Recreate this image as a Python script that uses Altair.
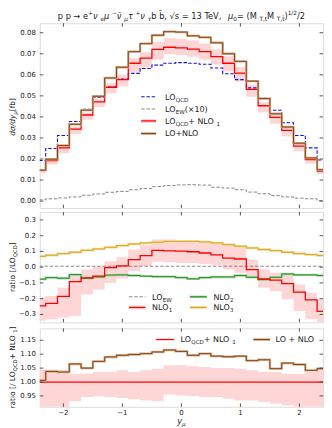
import unicodedata
import altair as alt
import pandas as pd

# ---------------- data ----------------
bin_centers = [-2.4, -2.2, -2.0, -1.8, -1.6, -1.4, -1.2, -1.0, -0.8, -0.6, -0.4, -0.2,
               0.0, 0.2, 0.4, 0.6, 0.8, 1.0, 1.2, 1.4, 1.6, 1.8, 2.0, 2.2, 2.4]
half_bin = 0.1

lo_qcd = [0.0193, 0.0250, 0.0312, 0.0378, 0.0436, 0.0492, 0.0542, 0.0580, 0.0607, 0.0630,
          0.0646, 0.0655, 0.0658, 0.0655, 0.0650, 0.0632, 0.0605, 0.0577, 0.0538, 0.0488,
          0.0432, 0.0372, 0.0312, 0.0253, 0.0195]
lo_ew_x10 = [0.0006, 0.0011, 0.0015, 0.0020, 0.0028, 0.0034, 0.0042, 0.0046, 0.0054, 0.0060,
             0.0069, 0.0074, 0.0077, 0.0078, 0.0076, 0.0066, 0.0062, 0.0054, 0.0043, 0.0035,
             0.0026, 0.0020, 0.0014, 0.0011, 0.0003]
lo_qcd_nlo1 = [0.0146, 0.0192, 0.0253, 0.0342, 0.0409, 0.0471, 0.0541, 0.0577, 0.0655, 0.0679,
               0.0721, 0.0731, 0.0728, 0.0722, 0.0710, 0.0686, 0.0655, 0.0608, 0.0531, 0.0453,
               0.0398, 0.0336, 0.0261, 0.0197, 0.0142]
lo_nlo = [0.0147, 0.0199, 0.0264, 0.0365, 0.0432, 0.0498, 0.0585, 0.0636, 0.0710, 0.0748,
          0.0788, 0.0805, 0.0803, 0.0785, 0.0778, 0.0752, 0.0700, 0.0664, 0.0570, 0.0487,
          0.0415, 0.0352, 0.0275, 0.0205, 0.0149]

# ratio / LO_QCD
r_lo_ew = [0.006, 0.006, 0.006, 0.006, 0.006, 0.006, 0.006, 0.006, 0.006, 0.006,
           0.006, 0.006, 0.006, 0.006, 0.006, 0.006, 0.006, 0.006, 0.006, 0.006,
           0.006, 0.006, 0.006, 0.006, 0.006]
r_nlo1 = [-0.245, -0.230, -0.185, -0.092, -0.068, -0.057, -0.003, 0.008, 0.048, 0.074,
          0.107, 0.104, 0.102, 0.098, 0.090, 0.078, 0.058, 0.052, -0.016, -0.075,
          -0.082, -0.104, -0.158, -0.208, -0.280]
r_nlo1_hi = [-0.190, -0.183, -0.130, -0.046, -0.015, 0.006, 0.038, 0.063, 0.112, 0.143,
             0.175, 0.175, 0.168, 0.168, 0.164, 0.158, 0.143, 0.126, 0.048, -0.015,
             -0.036, -0.046, -0.110, -0.162, -0.204]
r_nlo1_lo = [-0.340, -0.330, -0.320, -0.310, -0.173, -0.141, -0.099, -0.072, -0.025, 0.006,
             0.034, 0.032, 0.027, 0.027, 0.021, 0.013, -0.015, -0.036, -0.067, -0.130,
             -0.152, -0.204, -0.278, -0.330, -0.350]
r_nlo2 = [-0.076, -0.066, -0.070, -0.047, -0.070, -0.062, -0.050, -0.049, -0.053, -0.057,
          -0.060, -0.060, -0.066, -0.074, -0.066, -0.062, -0.062, -0.053, -0.064, -0.079,
          -0.064, -0.043, -0.049, -0.049, -0.053]
r_nlo3 = [0.069, 0.076, 0.086, 0.095, 0.107, 0.116, 0.126, 0.137, 0.147, 0.154,
          0.158, 0.164, 0.164, 0.164, 0.160, 0.154, 0.143, 0.133, 0.122, 0.112,
          0.105, 0.095, 0.086, 0.080, 0.074]

# ratio / (LO_QCD + NLO_1)
r_ref = [1.0] * 25
r_lonlo = [1.006, 1.038, 1.036, 1.065, 1.050, 1.074, 1.090, 1.096, 1.099, 1.102,
           1.108, 1.115, 1.110, 1.096, 1.102, 1.093, 1.091, 1.093, 1.077, 1.080,
           1.048, 1.068, 1.063, 1.042, 1.048]
band_hi = [1.045, 1.045, 1.042, 1.030, 1.030, 1.036, 1.036, 1.042, 1.036, 1.042,
           1.048, 1.060, 1.060, 1.057, 1.054, 1.050, 1.050, 1.048, 1.042, 1.036,
           1.036, 1.030, 1.030, 1.036, 1.054]
band_lo = [0.900, 0.900, 0.900, 0.931, 0.946, 0.949, 0.946, 0.943, 0.938, 0.934,
           0.931, 0.955, 0.952, 0.950, 0.946, 0.946, 0.940, 0.934, 0.934, 0.928,
           0.922, 0.916, 0.910, 0.908, 0.905]

x_ticks = [-2, -1, 0, 1, 2]
x_tick_labels = ["−2", "−1", "0", "1", "2"]
y_ticks_top = [0.00, 0.01, 0.02, 0.03, 0.04, 0.05, 0.06, 0.07, 0.08]
y_labels_top = ["0.00", "0.01", "0.02", "0.03", "0.04", "0.05", "0.06", "0.07", "0.08"]
y_ticks_mid = [-0.3, -0.2, -0.1, 0.0, 0.1, 0.2, 0.3]
y_labels_mid = ["−0.3", "−0.2", "−0.1", "0.0", "0.1", "0.2", "0.3"]
y_ticks_bot = [0.95, 1.00, 1.05, 1.10, 1.15]
y_labels_bot = ["0.95", "1.00", "1.05", "1.10", "1.15"]

# ---------------- layout / style ----------------
W = 285
H1, H2, H3 = 186, 111, 79
FONT = "DejaVu Sans"
FS_TICK = 7
FS_LEG = 8
FS_AX = 7.5
FS_TITLE = 8.3
FRAME = "#444444"
TXT = "#222222"
NBSP = "\u00a0"

RED = "#ff0000"
PINK = "#ffd6d6"
BLUE = "#1010ee"
GRAY = "#7a7a7a"
BROWN = "#8b4513"
BROWN_H = "#d2b090"
GREEN = "#228b22"
GREEN_H = "#a8d8a8"
GOLD = "#daa520"
GOLD_H = "#f2dc9a"

X_DOM = [-2.4, 2.4]
D_TOP = [-0.0033, 0.0845]
D_MID = [-0.35, 0.35]
D_BOT = [0.911, 1.193]
xscale = alt.Scale(domain=X_DOM, nice=False, zero=False)


def ysc(dom):
    return alt.Scale(domain=dom, nice=False, zero=False)


def to_data_x(px):
    return X_DOM[0] + px / W * (X_DOM[1] - X_DOM[0])


def to_data_y(py, H, dom):
    return dom[1] - py / H * (dom[1] - dom[0])


def step_df(vals, lo=None, hi=None):
    xs = [c - half_bin for c in bin_centers] + [bin_centers[-1] + half_bin]
    d = {"x": xs, "y": list(vals) + [vals[-1]]}
    if lo is not None:
        d["lo"] = list(lo) + [lo[-1]]
        d["hi"] = list(hi) + [hi[-1]]
    return pd.DataFrame(d)


def hist(vals, dom, color, width, dash=None):
    kw = dict(color=color, strokeWidth=width, interpolate="step-after", clip=True)
    if dash:
        kw["strokeDash"] = dash
    return alt.Chart(step_df(vals)).mark_line(**kw).encode(
        x=alt.X("x:Q", scale=xscale, axis=None),
        y=alt.Y("y:Q", scale=ysc(dom), axis=None),
    )


def band(lo, hi, dom, color):
    return alt.Chart(step_df(lo, lo, hi)).mark_area(
        color=color, interpolate="step-after", clip=True, opacity=1
    ).encode(
        x=alt.X("x:Q", scale=xscale, axis=None),
        y=alt.Y("lo:Q", scale=ysc(dom), axis=None),
        y2="hi:Q",
    )


def frame_ticks(H, dom, yvals, ylabs, show_x):
    tl = 3.5
    out = []
    rule = dict(color=FRAME, strokeWidth=0.9)
    xdf = pd.DataFrame({
        "t": x_ticks * 2,
        "y1": [to_data_y(H, H, dom)] * len(x_ticks) + [to_data_y(0, H, dom)] * len(x_ticks),
        "y2": [to_data_y(H - tl, H, dom)] * len(x_ticks) + [to_data_y(tl, H, dom)] * len(x_ticks),
    })
    out.append(alt.Chart(xdf).mark_rule(**rule).encode(
        x=alt.X("t:Q", scale=xscale, axis=None),
        y=alt.Y("y1:Q", scale=ysc(dom), axis=None), y2="y2:Q"))
    n = len(yvals)
    ydf = pd.DataFrame({
        "v": list(yvals) * 2,
        "x1": [to_data_x(0)] * n + [to_data_x(W - tl)] * n,
        "x2": [to_data_x(tl)] * n + [to_data_x(W)] * n,
    })
    out.append(alt.Chart(ydf).mark_rule(**rule).encode(
        y=alt.Y("v:Q", scale=ysc(dom), axis=None),
        x=alt.X("x1:Q", scale=xscale, axis=None), x2="x2:Q"))
    # tick labels
    ldf = pd.DataFrame({"v": yvals, "lab": ylabs, "xl": [to_data_x(-4)] * n})
    out.append(alt.Chart(ldf).mark_text(
        font=FONT, fontSize=FS_TICK, align="right", baseline="middle", color=TXT
    ).encode(
        y=alt.Y("v:Q", scale=ysc(dom), axis=None),
        x=alt.X("xl:Q", scale=xscale, axis=None), text="lab:N"))
    if show_x:
        xl = pd.DataFrame({"t": x_ticks, "lab": x_tick_labels,
                           "yl": [to_data_y(H + 2, H, dom)] * len(x_ticks)})
        out.append(alt.Chart(xl).mark_text(
            font=FONT, fontSize=FS_TICK, align="center", baseline="top", color=TXT
        ).encode(
            x=alt.X("t:Q", scale=xscale, axis=None),
            y=alt.Y("yl:Q", scale=ysc(dom), axis=None), text="lab:N"))
    return out


# ---------------- rich text (sub/superscripts) ----------------
EM = {" ": 0.318, NBSP: 0.318, "(": 0.390, ")": 0.390, "+": 0.838, "/": 0.337, "[": 0.390,
      "]": 0.390, "×": 0.838, ".": 0.318, ",": 0.318, "=": 0.838, "→": 0.838, "−": 0.838,
      "√": 0.636,
      "L": 0.557, "O": 0.787, "Q": 0.787, "C": 0.698, "D": 0.770, "E": 0.632, "W": 0.989,
      "N": 0.748, "M": 0.863, "T": 0.611, "V": 0.684,
      "a": 0.613, "t": 0.392, "i": 0.278, "o": 0.612, "r": 0.411, "d": 0.635, "f": 0.352,
      "b": 0.635, "y": 0.592, "s": 0.521, "e": 0.615, "p": 0.635,
      "σ": 0.634, "μ": 0.636, "ν": 0.592, "τ": 0.602}


def tw(s, fs):
    w = 0.0
    for ch in s:
        if unicodedata.combining(ch):
            continue
        w += EM.get(ch, 0.636)
    return w * fs


def rich(segs, x0, y0, fs, ang=0, anchor="left", color=TXT):
    """segs: list of (text, kind, italic) with kind in n/sub/sup; x0/y0 in pixels"""
    sizes = {"n": fs, "sub": 0.7 * fs, "sup": 0.7 * fs}
    shifts = {"n": 0.0, "sub": 0.26 * fs, "sup": -0.4 * fs}
    adv = (1, 0) if ang == 0 else (0, -1)
    perp = (0, 1) if ang == 0 else (1, 0)
    total = sum(tw(t, sizes[k]) for t, k, _ in segs)
    pos = -total / 2 if anchor == "middle" else 0.0
    rows = []
    for t, k, it in segs:
        s = sizes[k]
        rows.append({"px": x0 + adv[0] * pos + perp[0] * shifts[k],
                     "py": y0 + adv[1] * pos + perp[1] * shifts[k],
                     "text": t.replace(" ", NBSP), "fs": s, "ang": ang, "col": color, "it": it})
        pos += tw(t, s)
    return rows


def text_layers(rows, H, dom):
    df = pd.DataFrame(rows)
    df["xd"] = [to_data_x(v) for v in df["px"]]
    df["yd"] = [to_data_y(v, H, dom) for v in df["py"]]
    out = []
    for it, style in ((False, "normal"), (True, "italic")):
        sub = df[df["it"] == it]
        if len(sub) == 0:
            continue
        out.append(alt.Chart(sub).mark_text(
            font=FONT, align="left", baseline="alphabetic", fontStyle=style
        ).encode(
            x=alt.X("xd:Q", scale=xscale, axis=None),
            y=alt.Y("yd:Q", scale=ysc(dom), axis=None),
            text="text:N",
            size=alt.Size("fs:Q", scale=None, legend=None),
            angle=alt.Angle("ang:Q", scale=None),
            color=alt.Color("col:N", scale=None, legend=None),
        ))
    return out


def sym(x1, x2, y, col, sw, dash=False):
    return {"x1": x1, "x2": x2, "yy": y, "col": col, "sw": sw, "dash": dash}


def legend_rules(entries, H, dom):
    out = []
    df = pd.DataFrame(entries)
    df["xa"] = [to_data_x(v) for v in df["x1"]]
    df["xb"] = [to_data_x(v) for v in df["x2"]]
    df["yd"] = [to_data_y(v, H, dom) for v in df["yy"]]
    for dashed in (False, True):
        sub = df[df["dash"] == dashed]
        if len(sub) == 0:
            continue
        kw = {"strokeDash": [3.5, 1.8]} if dashed else {}
        out.append(alt.Chart(sub).mark_rule(**kw).encode(
            x=alt.X("xa:Q", scale=xscale, axis=None), x2="xb:Q",
            y=alt.Y("yd:Q", scale=ysc(dom), axis=None),
            color=alt.Color("col:N", scale=None, legend=None),
            strokeWidth=alt.StrokeWidth("sw:Q", scale=None, legend=None),
        ))
    return out


def leg_y(row_y):
    return row_y + 0.36 * FS_LEG


# ---------------- top panel ----------------
top_band_lo = [r * b for r, b in zip(lo_qcd_nlo1, band_lo)]
top_band_hi = [r * b for r, b in zip(lo_qcd_nlo1, band_hi)]

top_text = []
top_text += rich([("p p → e", "n", False), ("+", "sup", False), (" ν", "n", True), ("e", "sub", False),
                  (" μ", "n", True), ("−", "sup", False), (" ν̄", "n", True), ("μ", "sub", True),
                  (" τ", "n", True), ("+", "sup", False), (" ν", "n", True), ("τ", "sub", True),
                  (" b b̄, √s = 13 TeV, ", "n", False), ("μ", "n", True), ("0", "sub", False),
                  (" = (M", "n", False), ("T,t", "sub", False), (" M", "n", False),
                  ("T,t̄", "sub", False), (")", "n", False), ("1/2", "sup", False), ("/2", "n", False)],
                 W / 2, -4.5, FS_TITLE, anchor="middle")
top_text += rich([("dσ/dy", "n", True), ("μ", "sub", True), (" [fb]", "n", False)],
                 -25, H1 / 2, FS_AX, ang=270, anchor="middle")
tx = 126
rows_top = [74, 86.3, 98.3, 111]
top_text += rich([("LO", "n", False), ("QCD", "sub", False)], tx, leg_y(rows_top[0]), FS_LEG)
top_text += rich([("LO", "n", False), ("EW", "sub", False), (" (×10)", "n", False)], tx, leg_y(rows_top[1]), FS_LEG)
top_text += rich([("LO", "n", False), ("QCD", "sub", False), (" + NLO", "n", False), ("1", "sub", False)],
                 tx, leg_y(rows_top[2]), FS_LEG)
top_text += rich([("LO+NLO", "n", False)], tx, leg_y(rows_top[3]), FS_LEG)
top_syms = [
    sym(102, 117, rows_top[0], BLUE, 1.1, True),
    sym(102, 117, rows_top[1], GRAY, 0.9, True),
    sym(102, 117, rows_top[2], PINK, 4.0),
    sym(102, 117, rows_top[2], RED, 1.3),
    sym(102, 117, rows_top[3], BROWN_H, 2.6),
    sym(102, 117, rows_top[3], BROWN, 1.1),
]

top = alt.layer(
    band(top_band_lo, top_band_hi, D_TOP, PINK),
    hist(lo_ew_x10, D_TOP, GRAY, 0.9, [3.5, 1.8]),
    hist(lo_qcd, D_TOP, BLUE, 1.1, [3.5, 1.8]),
    hist(lo_qcd_nlo1, D_TOP, RED, 1.3),
    hist(lo_nlo, D_TOP, BROWN_H, 2.4),
    hist(lo_nlo, D_TOP, BROWN, 1.0),
    *frame_ticks(H1, D_TOP, y_ticks_top, y_labels_top, False),
    *legend_rules(top_syms, H1, D_TOP),
    *text_layers(top_text, H1, D_TOP),
).properties(width=W, height=H1)

# ---------------- middle panel ----------------
mid_text = rich([("ratio [/LO", "n", False), ("QCD", "sub", False), ("]", "n", False)],
                -25, H2 / 2, FS_AX, ang=270, anchor="middle")
rows_mid = [85.3, 96]
mid_text += rich([("LO", "n", False), ("EW", "sub", False)], 113, leg_y(rows_mid[0]), FS_LEG)
mid_text += rich([("NLO", "n", False), ("1", "sub", False)], 113, leg_y(rows_mid[1]), FS_LEG)
mid_text += rich([("NLO", "n", False), ("2", "sub", False)], 174.7, leg_y(rows_mid[0]), FS_LEG)
mid_text += rich([("NLO", "n", False), ("3", "sub", False)], 174.7, leg_y(rows_mid[1]), FS_LEG)
mid_syms = [
    sym(89.7, 106.3, rows_mid[0], GRAY, 0.9, True),
    sym(89.7, 106.3, rows_mid[1], PINK, 4.0),
    sym(89.7, 106.3, rows_mid[1], RED, 1.3),
    sym(151, 168, rows_mid[0], GREEN_H, 2.6),
    sym(151, 168, rows_mid[0], GREEN, 1.1),
    sym(151, 168, rows_mid[1], GOLD_H, 2.6),
    sym(151, 168, rows_mid[1], GOLD, 1.1),
]

mid = alt.layer(
    band(r_nlo1_lo, r_nlo1_hi, D_MID, PINK),
    hist(r_lo_ew, D_MID, GRAY, 0.9, [3.5, 1.8]),
    hist(r_nlo3, D_MID, GOLD_H, 2.4),
    hist(r_nlo3, D_MID, GOLD, 1.0),
    hist(r_nlo2, D_MID, GREEN_H, 2.4),
    hist(r_nlo2, D_MID, GREEN, 1.0),
    hist(r_nlo1, D_MID, RED, 1.3),
    *frame_ticks(H2, D_MID, y_ticks_mid, y_labels_mid, False),
    *legend_rules(mid_syms, H2, D_MID),
    *text_layers(mid_text, H2, D_MID),
).properties(width=W, height=H2)

# ---------------- bottom panel ----------------
bot_text = rich([("ratio [/ LO", "n", False), ("QCD", "sub", False), (" + NLO", "n", False),
                 ("1", "sub", False), ("]", "n", False)],
                -25, H3 / 2, FS_AX, ang=270, anchor="middle")
bot_text += rich([("y", "n", True), ("μ", "sub", True)], W / 2, H3 + 16.8, 8.2, anchor="middle")
row_b = 11.3
bot_text += rich([("LO", "n", False), ("QCD", "sub", False), (" + NLO", "n", False), ("1", "sub", False)],
                 141.7, leg_y(row_b), FS_LEG)
bot_text += rich([("LO + NLO", "n", False)], 237.3, leg_y(row_b), FS_LEG)
bot_syms = [
    sym(117, 135, row_b, RED, 1.3),
    sym(215, 231.7, row_b, BROWN_H, 2.6),
    sym(215, 231.7, row_b, BROWN, 1.1),
]

bot = alt.layer(
    band(band_lo, band_hi, D_BOT, PINK),
    hist(r_ref, D_BOT, RED, 1.3),
    hist(r_lonlo, D_BOT, BROWN_H, 2.4),
    hist(r_lonlo, D_BOT, BROWN, 1.0),
    *frame_ticks(H3, D_BOT, y_ticks_bot, y_labels_bot, True),
    *legend_rules(bot_syms, H3, D_BOT),
    *text_layers(bot_text, H3, D_BOT),
).properties(width=W, height=H3)

chart = alt.vconcat(top, mid, bot, spacing=2).properties(
    padding={"left": 0, "top": 0, "right": 0, "bottom": 0}
).configure_view(stroke=FRAME, strokeWidth=1).configure(font=FONT)

chart.save("out.html", embed_options={"renderer": "svg", "actions": False})
